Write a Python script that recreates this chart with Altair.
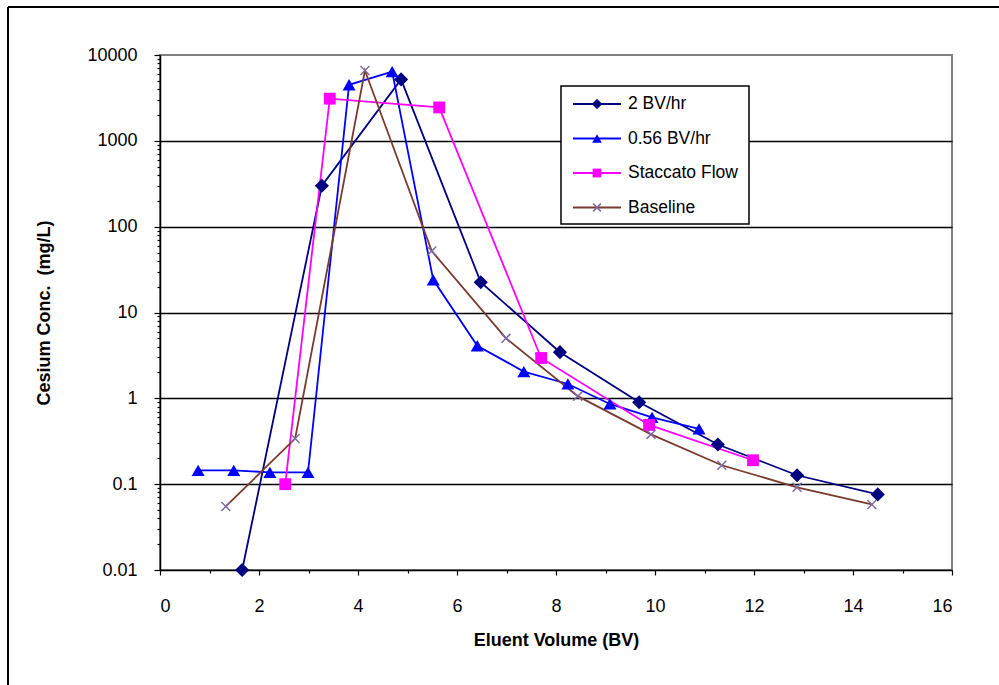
import altair as alt
import pandas as pd

FONT = "Liberation Sans"

series_names = ["2 BV/hr", "0.56 BV/hr", "Staccato Flow", "Baseline"]

x_2bv = [1.66, 3.27, 4.87, 6.48, 8.08, 9.68, 11.27, 12.87, 14.5]
y_2bv = [0.01, 300, 5200, 22.5, 3.45, 0.9, 0.29, 0.127, 0.076]

x_056 = [0.77, 1.49, 2.22, 2.99, 3.82, 4.69, 5.52, 6.41, 7.35, 8.24, 9.09, 9.94, 10.89]
y_056 = [0.145, 0.145, 0.137, 0.137, 4500, 6400, 24, 4.1, 2.05, 1.47, 0.86, 0.6, 0.44]

x_stac = [2.53, 3.43, 5.64, 7.70, 9.88, 11.98]
y_stac = [0.1, 3100, 2450, 2.95, 0.49, 0.19]

x_base = [1.33, 2.73, 4.14, 5.49, 6.99, 8.44, 9.92, 11.35, 12.87, 14.38]
y_base = [0.055, 0.34, 6600, 52, 5.0, 1.06, 0.38, 0.166, 0.092, 0.058]

x_ticks = list(range(0, 17))
y_ticks = [m * 10.0 ** k for k in range(-2, 4) for m in range(1, 10)] + [10000]

rows = []
for name, xs, ys in zip(series_names, [x_2bv, x_056, x_stac, x_base], [y_2bv, y_056, y_stac, y_base]):
    for i, (xv, yv) in enumerate(zip(xs, ys)):
        rows.append({"series": name, "x": xv, "y": yv, "i": i})
df = pd.DataFrame(rows)

line_colors = ["#000080", "#0000FF", "#FF00FF", "#7A3B2E"]
x_marker_color = "#7F6A9F"
x_path = "M-1,-1L1,1M1,-1L-1,1"
shapes = ["diamond", "triangle-up", "square", x_path]
sizes = [200, 110, 220, 80]

color_scale = alt.Scale(domain=series_names, range=line_colors)
shape_scale = alt.Scale(domain=series_names, range=shapes)
size_scale = alt.Scale(domain=series_names, range=sizes)

P = "abs(log(datum.value)/LN10 - round(log(datum.value)/LN10)) < 0.001"

y_axis = alt.Axis(
    values=y_ticks,
    labelExpr=f"({P}) ? format(datum.value, '~f') : ''",
    tickSize={"condition": {"test": P, "value": 6}, "value": 3},
    labelPadding=17,
    grid=True,
    gridColor="black",
    gridWidth=1.6,
    gridOpacity={"condition": {"test": f"({P}) && datum.value > 0.05 && datum.value < 5000", "value": 1}, "value": 0},
    title="Cesium Conc. \u00a0(mg/L)",
    titleX=-116,
    titleY=257.5,
    titleAngle=-90,
    titleAlign="center",
    titleBaseline="middle",
)

x_axis = alt.Axis(
    values=x_ticks,
    labelExpr="datum.value % 2 == 0 ? datum.label : ''",
    tickSize={"condition": {"test": "datum.value % 2 == 0", "value": 5}, "value": 3},
    labelPadding=22,
    grid=False,
    title="Eluent Volume (BV)",
    titleX=396,
    titleY=70,
    titleAlign="center",
    titleBaseline="middle",
)

xenc = alt.X("x:Q", scale=alt.Scale(domain=[0, 16], nice=False, zero=False), axis=x_axis)
yenc = alt.Y("y:Q", scale=alt.Scale(type="log", domain=[0.01, 10000], nice=False), axis=y_axis)

base = alt.Chart(df)

lines = base.mark_line(strokeWidth=1.8).encode(
    x=xenc,
    y=yenc,
    color=alt.Color("series:N", scale=color_scale, legend=None),
    order="i:Q",
)

filled_pts = base.transform_filter("datum.series != 'Baseline'").mark_point(
    filled=True, opacity=1
).encode(
    x="x:Q",
    y="y:Q",
    color=alt.Color("series:N", scale=color_scale, legend=None),
    shape=alt.Shape("series:N", scale=shape_scale, legend=None),
    size=alt.Size("series:N", scale=size_scale, legend=None),
)

x_pts = base.transform_filter("datum.series == 'Baseline'").mark_point(
    shape=x_path, filled=False, color=x_marker_color, strokeWidth=1.5, size=80, opacity=1
).encode(x="x:Q", y="y:Q")

one = pd.DataFrame({"a": [0]})

legend_box = alt.Chart(one).mark_rect(fill="white", stroke="black", strokeWidth=1.5).encode(
    x=alt.value(401), x2=alt.value(589), y=alt.value(31), y2=alt.value(169)
)

legend_layers = [legend_box]
for k, name in enumerate(series_names):
    ly = 49 + k * 34.5
    ldf = pd.DataFrame({"series": [name]})
    legend_layers.append(
        alt.Chart(ldf).mark_rule(strokeWidth=1.8).encode(
            x=alt.value(413), x2=alt.value(461), y=alt.value(ly),
            color=alt.Color("series:N", scale=color_scale, legend=None),
        )
    )
    if name == "Baseline":
        legend_layers.append(
            alt.Chart(ldf).mark_point(
                shape=x_path, filled=False, color=x_marker_color, strokeWidth=1.5, size=60, opacity=1
            ).encode(x=alt.value(437), y=alt.value(ly))
        )
    else:
        legend_layers.append(
            alt.Chart(ldf).mark_point(filled=True, opacity=1).encode(
                x=alt.value(437), y=alt.value(ly),
                color=alt.Color("series:N", scale=color_scale, legend=None),
                shape=alt.Shape("series:N", scale=shape_scale, legend=None),
                size=alt.Size("series:N", scale=alt.Scale(domain=series_names, range=[110, 60, 170, 60]), legend=None),
            )
        )
    legend_layers.append(
        alt.Chart(ldf).mark_text(align="left", baseline="middle", font=FONT, fontSize=17.5, color="black").encode(
            x=alt.value(468), y=alt.value(ly), text="series:N"
        )
    )

frame_left = alt.Chart(one).mark_rule(color="black", strokeWidth=2).encode(
    x=alt.value(-152), y=alt.value(-48), y2=alt.value(720)
)
frame_top = alt.Chart(one).mark_rule(color="black", strokeWidth=2).encode(
    x=alt.value(-152), x2=alt.value(900), y=alt.value(-48)
)

chart = alt.layer(lines, filled_pts, x_pts, *legend_layers, frame_left, frame_top).resolve_scale(
    size="independent"
).properties(
    width=792,
    height=515,
    autosize=alt.AutoSizeParams(type="none"),
    padding={"left": 160, "top": 55, "right": 47, "bottom": 115},
    background="white",
).configure_view(
    stroke="#808080", strokeWidth=2
).configure_axis(
    domainColor="black",
    domainWidth=1.5,
    tickColor="black",
    tickWidth=1.2,
    labelFont=FONT,
    labelFontSize=18,
    labelColor="black",
    titleFont=FONT,
    titleFontSize=18,
    titleFontWeight="bold",
    titleColor="black",
)

chart.save("out.html", embed_options={"renderer": "svg", "actions": False})
